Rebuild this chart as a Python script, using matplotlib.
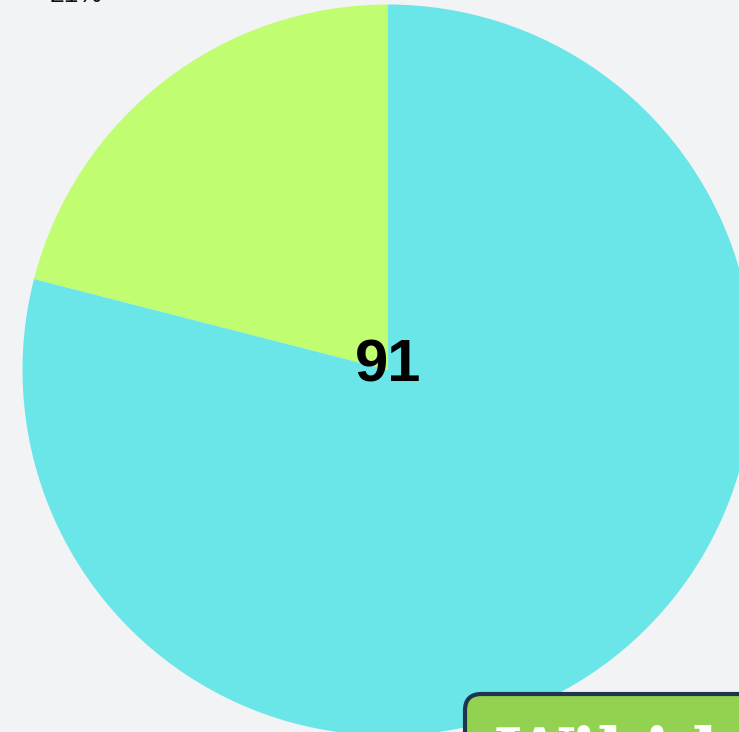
import matplotlib
matplotlib.use("Agg")
import matplotlib.pyplot as plt
from matplotlib.patches import FancyBboxPatch

labels = ["21%", "79%"]
shares = [21, 79]
colors = ["#C0FD70", "#6AE5E8"]
center_value = "91"
note_text = "Wikidata"

bg = "#F2F3F5"
fig = plt.figure(figsize=(7.39, 7.32), dpi=100, facecolor=bg)
ax = fig.add_axes([0, 0, 1, 1])
ax.set_facecolor(bg)

# pixel scale: pie radius ~365.5 px, centre at (388, 370) from top-left
s = 365.5

wedges, texts = ax.pie(shares, labels=labels, colors=colors, startangle=90,
                       counterclock=True, labeldistance=1.30, radius=1,
                       textprops=dict(fontsize=19, family="Liberation Sans",
                                      color="#111111"))
for t in texts:
    x, y = t.get_position()
    t.set_position((x + 6 / s, y))

ax.text(0, 0.01, center_value, ha="center", va="center", fontsize=43,
        fontweight="bold", family="Liberation Sans", color="black")

ax.set_xlim(-388 / s, (739 - 388) / s)
ax.set_ylim(-(732 - 370) / s, 370 / s)
ax.set_aspect("auto")
ax.axis("off")

box = FancyBboxPatch(((465 - 388) / s, (370 - 900) / s), (900 - 465) / s, (900 - 694) / s,
                     boxstyle="round,pad=0,rounding_size=0.045",
                     facecolor="#93D150", edgecolor="#1E3550", linewidth=3,
                     clip_on=False, zorder=5)
ax.add_patch(box)
ax.text((497 - 388) / s, (370 - 776) / s, note_text, ha="left", va="baseline",
        fontsize=49, fontweight="bold", family="DejaVu Serif", color="white",
        zorder=6, clip_on=False)

fig.savefig("out.png", dpi=100, facecolor=bg)
